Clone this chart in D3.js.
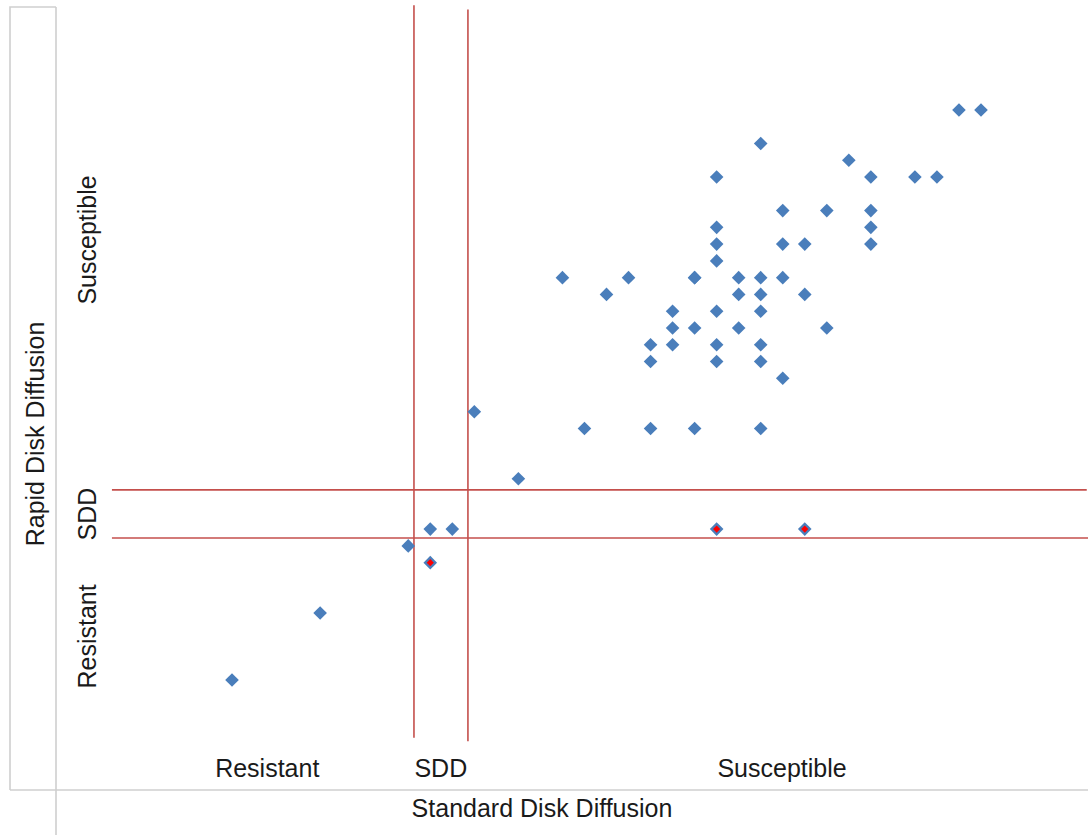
<!DOCTYPE html>
<html>
<head>
<meta charset="utf-8">
<script src="https://cdn.jsdelivr.net/npm/d3@7"></script>
<style>
  html, body { margin: 0; padding: 0; background: #fff; }
  svg { display: block; }
  text { font-family: "Liberation Sans", Arial, sans-serif; fill: #1a1a1a; }
</style>
</head>
<body>
<svg id="chart" width="1088" height="835"></svg>
<script>
// Standard disk diffusion (mm) vs rapid disk diffusion (mm)
const standardDD = [39,40, 30, 34, 28,35,37,38, 31,33,35, 28,35, 28,31,32,35, 28,
  21,24,27,27,29,30,31, 23,29,30,32, 26,28,30, 26,27,29,33, 25,26,28,30, 25,28,30,
  31, 17, 22,25,27,30, 19, 15,16, 14, 10, 6];
const rapidDD = [40,40, 38, 37, 36,36,36,36, 34,34,34, 33,33, 32,32,32,32, 31,
  30,30,30,30,30,30,30, 29,29,29,29, 28,28,28, 27,27,27,27, 26,26,26,26, 25,25,25,
  24, 22, 21,21,21,21, 18, 15,15, 14, 10, 6];
// flagged (discordant) isolates
const flaggedStandard = [28, 32, 15];
const flaggedRapid = [15, 15, 13];

// breakpoint lines
const vBreaks = [{x: 14.26, y0: 2.55, y1: 46.25}, {x: 16.71, y0: 2.35, y1: 46.0}];
const hBreaks = [{y: 17.34, x0: 0.55, x1: 44.8}, {y: 14.47, x0: 0.55, x1: 44.9}];

const xCats = ["Resistant", "SDD", "Susceptible"];
const xCatPos = [7.6, 15.48, 30.97];
const yCats = ["Susceptible", "SDD", "Resistant"];
const yCatPos = [32.25, 15.9, 8.6];

const xTitle = "Standard Disk Diffusion";
const yTitle = "Rapid Disk Diffusion";

const svg = d3.select("#chart");
const x = d3.scaleLinear().domain([6, 40]).range([232, 981]);
const y = d3.scaleLinear().domain([6, 40]).range([680, 110]);

// frame
const frame = svg.append("g").attr("stroke", "#cfcfcf").attr("stroke-width", 1.6).attr("fill", "none");
frame.append("path").attr("d", "M10,790 L10,7 L56,7");
frame.append("line").attr("x1", 56).attr("y1", 7).attr("x2", 56).attr("y2", 835);
frame.append("line").attr("x1", 10).attr("y1", 790).attr("x2", 1088).attr("y2", 790);

// breakpoint lines
const red = svg.append("g").attr("stroke", "#c44f4c").attr("stroke-width", 1.6);
red.selectAll(".v").data(vBreaks).enter().append("line")
  .attr("x1", d => x(d.x)).attr("x2", d => x(d.x))
  .attr("y1", d => y(d.y0)).attr("y2", d => y(d.y1));
red.selectAll(".h").data(hBreaks).enter().append("line")
  .attr("y1", d => y(d.y)).attr("y2", d => y(d.y))
  .attr("x1", d => x(d.x0)).attr("x2", d => x(d.x1));

// points
const pts = standardDD.map((v, i) => ({x: v, y: rapidDD[i]}));
const flagged = flaggedStandard.map((v, i) => ({x: v, y: flaggedRapid[i]}));
const diamond = r => `M0,${-r} L${r},0 L0,${r} L${-r},0 Z`;
svg.append("g").selectAll("path").data(pts.concat(flagged)).enter().append("path")
  .attr("d", diamond(6.8))
  .attr("transform", d => `translate(${x(d.x)},${y(d.y)})`)
  .attr("fill", "#4a7ebb");
svg.append("g").selectAll("path").data(flagged).enter().append("path")
  .attr("d", diamond(3.6))
  .attr("transform", d => `translate(${x(d.x)},${y(d.y)})`)
  .attr("fill", "#ff0000");

// category labels
const fs = 25;
svg.append("g").selectAll("text").data(xCats).enter().append("text")
  .attr("x", (d, i) => x(xCatPos[i])).attr("y", 777)
  .attr("text-anchor", "middle").attr("font-size", fs).text(d => d);
svg.append("g").selectAll("text").data(yCats).enter().append("text")
  .attr("transform", (d, i) => `translate(96,${y(yCatPos[i])}) rotate(-90)`)
  .attr("text-anchor", "middle").attr("font-size", fs).text(d => d);

// titles
svg.append("text").attr("x", 542).attr("y", 817).attr("text-anchor", "middle")
  .attr("font-size", fs).text(xTitle);
svg.append("text").attr("transform", "translate(44,434) rotate(-90)")
  .attr("text-anchor", "middle").attr("font-size", fs).text(yTitle);
</script>
</body>
</html>
